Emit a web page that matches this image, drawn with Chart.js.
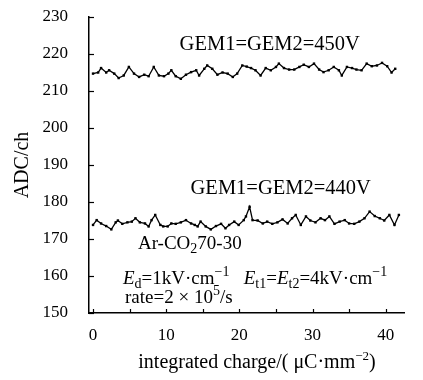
<!DOCTYPE html>
<html>
<head>
<meta charset="utf-8">
<script src="https://cdn.jsdelivr.net/npm/chart.js@4.4.1/dist/chart.umd.min.js"></script>
<style>
html,body{margin:0;padding:0;background:#fff;}
#wrap{width:423px;height:380px;}
</style>
</head>
<body>
<div id="wrap"><canvas id="c" width="423" height="380"></canvas></div>
<script>
// ---- data ----
const charge450 = [0,0.7,1.1,1.8,2.2,2.9,3.5,4.2,4.9,5.6,6.3,7,7.6,8.3,9,9.7,10.3,10.7,11.3,12,12.7,13.4,14.1,14.5,15.2,15.6,16.3,17,17.7,18.4,19.1,19.7,20.4,21,21.6,22.2,22.9,23.6,24.3,25,25.4,26.1,26.8,27.5,28.2,28.8,29.5,30.2,30.9,31.5,32.2,32.9,33.6,34,34.7,35.4,36,36.7,37.4,38.1,38.8,39.5,40.2,40.8,41.3];
const adc450 = [214.7,215,216.2,215,215.6,214.7,213.5,214.2,216.5,214.7,213.8,214.4,214,216.5,214.2,214,214.7,215.6,214,213.3,214.4,215.1,215.6,214.2,216,216.9,216,214.4,215,214.7,213.8,214.7,216.9,216.6,216.2,215.6,214.2,216.2,215.6,216.5,217.4,216.2,215.8,215.8,216.5,217.1,216.5,217.4,215.8,215.1,215.6,216.5,215.6,214.2,216.5,216.2,215.8,215.6,217.4,216.7,216.9,217.6,216.7,215,216];
const charge440 = [0,0.5,1.1,1.8,2.5,3.1,3.4,4,4.7,5.3,5.8,6.4,7.1,7.6,8,8.5,9.2,9.6,10.2,10.7,11.3,12,12.7,13.4,13.9,14.3,14.7,15.4,16.1,16.8,17.5,18.1,18.6,19.3,19.9,20.6,20.9,21.4,21.8,22.5,23.2,23.8,24.5,25.2,25.9,26.6,27.2,27.7,28.4,29.1,29.7,30.4,31.1,31.7,32.3,33,33.7,34.4,35,35.7,36.4,37.1,37.8,38.5,39.2,39.8,40.5,41.2,41.8];
const adc440 = [173.8,175.1,174.2,173.5,172.6,174.5,175,174.1,174.5,174.7,175.6,174.5,174.2,173.4,175.1,176.5,173.8,173.4,173.4,174.2,174.1,174.5,175.1,174.2,173.8,173.4,174.7,173.4,172.6,173.5,174.1,172.9,173.8,174.7,173.8,175.1,176.1,178.7,175.1,175,174.2,174.7,174.1,174.5,175.3,174.2,175.6,176.5,173.8,176.1,175,174.5,175.6,175.1,176.1,174.1,174.7,175.1,174.2,174.1,174.7,175.6,177.4,176.2,175.6,175,176.5,173.8,176.5];
const xTickLabels = [0,10,20,30,40];
const xMinorTicks = [0,5,10,15,20,25,30,35,40];
const yTickLabels = [150,160,170,180,190,200,210,220,230];

// ---- drawing ----
const F = '"Liberation Serif","DejaVu Serif",serif';
const toPts = (xs, ys) => xs.map((x, i) => ({x, y: ys[i]}));

function drawRuns(ctx, x, y, runs, align) {
  let w = 0;
  runs.forEach(r => { ctx.font = r.f; r.w = ctx.measureText(r.t).width; w += r.w; });
  let cx = align === 'center' ? x - w / 2 : x;
  runs.forEach(r => { ctx.font = r.f; ctx.fillText(r.t, cx, y + (r.dy || 0)); cx += r.w; });
}
const N = `19px ${F}`, IT = `italic 19px ${F}`, SM = `14px ${F}`, BIG = `20.5px ${F}`, TT = `20px ${F}`, TS = `13px ${F}`;
const notes = [
  {x: 24.15, y: 221.1, align: 'center', runs: [{t: 'GEM1=GEM2=450V', f: BIG}]},
  {x: 25.65, y: 182.2, align: 'center', runs: [{t: 'GEM1=GEM2=440V', f: BIG}]},
  {x: 6.14, y: 167.3, align: 'left', runs: [{t: 'Ar-CO', f: N}, {t: '2', f: SM, dy: 4}, {t: '70-30', f: N}]},
  {x: 4.09, y: 157.8, align: 'left', runs: [
    {t: 'E', f: IT}, {t: 'd', f: SM, dy: 4}, {t: '=1kV·cm', f: N}, {t: '−1', f: SM, dy: -8},
    {t: '   ', f: N}, {t: 'E', f: IT}, {t: 't1', f: SM, dy: 4}, {t: '=', f: N}, {t: 'E', f: IT}, {t: 't2', f: SM, dy: 4},
    {t: '=4kV·cm', f: N}, {t: '−1', f: SM, dy: -8}]},
  {x: 4.37, y: 152.7, align: 'left', runs: [{t: 'rate=2 × 10', f: N}, {t: '5', f: SM, dy: -8}, {t: '/s', f: N}]}
];
const xTitleRuns = [{t: 'integrated charge/( μC·mm', f: TT}, {t: '−2', f: TS, dy: -8}, {t: ')', f: TT}];

const extras = {
  id: 'extras',
  beforeDraw(chart) {
    const ctx = chart.ctx;
    ctx.save(); ctx.fillStyle = '#fff'; ctx.fillRect(0, 0, chart.width, chart.height); ctx.restore();
  },
  afterDraw(chart) {
    const ctx = chart.ctx, xs = chart.scales.x, ys = chart.scales.y;
    ctx.save();
    ctx.strokeStyle = '#000'; ctx.lineWidth = 1.2;
    yTickLabels.forEach(v => {
      const p = Math.round(ys.getPixelForValue(v)) + 0.5;
      ctx.beginPath(); ctx.moveTo(xs.left, p); ctx.lineTo(xs.left + 5, p); ctx.stroke();
    });
    xMinorTicks.forEach(v => {
      const p = Math.round(xs.getPixelForValue(v)) + 0.5;
      ctx.beginPath(); ctx.moveTo(p, ys.bottom); ctx.lineTo(p, ys.bottom - 4); ctx.stroke();
    });
    ctx.fillStyle = '#000'; ctx.textBaseline = 'alphabetic';
    notes.forEach(n => drawRuns(ctx, xs.getPixelForValue(n.x), ys.getPixelForValue(n.y), n.runs, n.align));
    drawRuns(ctx, 257, xs.bottom - 12, xTitleRuns, 'center');
    ctx.restore();
  }
};

const ds = (xs, ys) => ({
  data: toPts(xs, ys), showLine: true, borderColor: '#000', backgroundColor: '#000',
  borderWidth: 1.3, pointStyle: 'rect', pointRadius: 1.7, pointBorderWidth: 0, tension: 0
});

new Chart(document.getElementById('c'), {
  type: 'scatter',
  data: {datasets: [ds(charge450, adc450), ds(charge440, adc440)]},
  options: {
    responsive: false, animation: false,
    layout: {padding: {top: 17, right: 19, left: 0, bottom: 0}},
    plugins: {legend: {display: false}, tooltip: {enabled: false}},
    scales: {
      x: {
        type: 'linear', min: -0.55, max: 42.5,
        afterBuildTicks: s => { s.ticks = xTickLabels.map(v => ({value: v})); },
        afterFit: s => { s.height = 67; s.paddingLeft = 0; s.paddingRight = 0; },
        grid: {display: true, drawOnChartArea: false, drawTicks: false},
        border: {display: true, color: '#000', width: 1.5},
        ticks: {color: '#000', padding: 12, font: {family: F, size: 17}, maxRotation: 0},
        title: {display: false}
      },
      y: {
        type: 'linear', min: 150, max: 230,
        afterBuildTicks: s => { s.ticks = yTickLabels.map(v => ({value: v})); },
        afterFit: s => { s.width = 89; s.paddingTop = 0; s.paddingBottom = 0; },
        grid: {display: true, drawOnChartArea: false, drawTicks: false},
        border: {display: true, color: '#000', width: 1.5},
        ticks: {color: '#000', padding: 21, font: {family: F, size: 17}},
        title: {display: true, text: 'ADC/ch', color: '#000', font: {family: F, size: 20}, padding: {top: 11, bottom: 10}}
      }
    }
  },
  plugins: [extras]
});
</script>
</body>
</html>
